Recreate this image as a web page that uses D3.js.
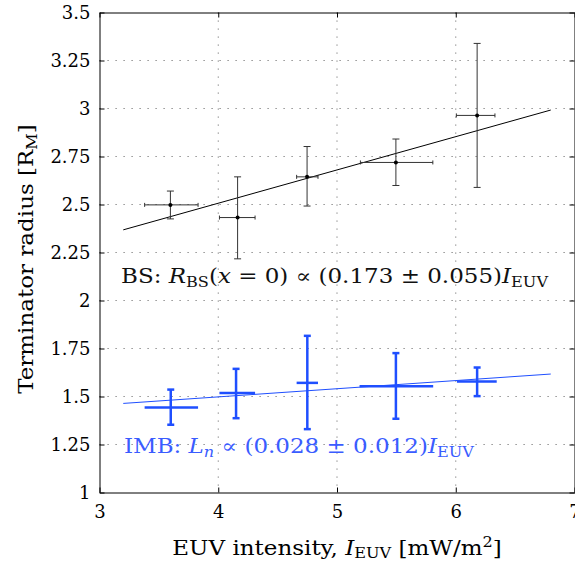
<!DOCTYPE html>
<html>
<head>
<meta charset="utf-8">
<script src="https://cdn.jsdelivr.net/npm/d3@7"></script>
<style>
  body { margin: 0; background: #fff; }
  svg text { font-family: "DejaVu Serif", serif; }
</style>
</head>
<body>
<div id="chart"></div>
<script>
// data
var xTicks = [3, 4, 5, 6, 7];
var yTicks = [1, 1.25, 1.5, 1.75, 2, 2.25, 2.5, 2.75, 3, 3.25, 3.5];

// bow shock (black)
var euvBS = [3.597, 4.163, 4.748, 5.496, 6.18];
var rBS = [2.498, 2.432, 2.644, 2.719, 2.964];
var xLoBS = [3.38, 4.01, 4.66, 5.197, 6.005];
var xHiBS = [3.83, 4.31, 4.84, 5.807, 6.33];
var yLoBS = [2.425, 2.217, 2.492, 2.599, 2.589];
var yHiBS = [2.57, 2.644, 2.802, 2.841, 3.339];

// induced magnetosphere boundary (blue)
var euvIMB = [3.6, 4.15, 4.75, 5.496, 6.18];
var lIMB = [1.443, 1.518, 1.571, 1.554, 1.578];
var xLoIMB = [3.38, 4.01, 4.66, 5.19, 6.01];
var xHiIMB = [3.83, 4.31, 4.84, 5.81, 6.345];
var yLoIMB = [1.353, 1.387, 1.330, 1.384, 1.502];
var yHiIMB = [1.536, 1.644, 1.816, 1.726, 1.651];

// linear fits
var fitX = [3.2, 6.8];
var fitBS = [2.368, 2.992];
var fitIMB = [1.464, 1.617];

var blue = "#1f4fff";
var serif = "'DejaVu Serif', serif";
var stretch = 1.15; // the original figure's text is a bit wider

// set the dimensions and margins of the graph
var margin = { top: 12.5, right: 0.5, bottom: 68.5, left: 99.5 },
    width = 575 - margin.left - margin.right,
    height = 561 - margin.top - margin.bottom;

var svg = d3.select("#chart")
    .append("svg")
    .attr("width", 575)
    .attr("height", 561)
    .append("g")
    .attr("transform", "translate(" + margin.left + "," + margin.top + ")");

var x = d3.scaleLinear().domain([3, 7]).range([0, width]);
var y = d3.scaleLinear().domain([1, 3.5]).range([height, 0]);

// dotted grid
svg.selectAll(".gx")
    .data(xTicks.slice(1, -1))
    .enter().append("line")
    .attr("x1", d => x(d)).attr("x2", d => x(d))
    .attr("y1", 0).attr("y2", height)
    .attr("stroke", "#777").attr("stroke-width", 1)
    .attr("stroke-dasharray", "1.2,6.8");

svg.selectAll(".gy")
    .data(yTicks.slice(1, -1))
    .enter().append("line")
    .attr("y1", d => y(d)).attr("y2", d => y(d))
    .attr("x1", 0).attr("x2", width)
    .attr("stroke", "#777").attr("stroke-width", 1)
    .attr("stroke-dasharray", "1.2,6.8");

// axes, ticks pointing inward
var fmt = d3.format("~g");
svg.append("g")
    .attr("transform", "translate(0," + height + ")")
    .call(d3.axisBottom(x).tickValues(xTicks).tickSizeInner(-5).tickSizeOuter(0).tickPadding(13).tickFormat(fmt));
svg.append("g")
    .call(d3.axisLeft(y).tickValues(yTicks).tickSizeInner(-5).tickSizeOuter(0).tickPadding(9).tickFormat(fmt));
svg.append("g")
    .call(d3.axisTop(x).tickValues(xTicks).tickSizeInner(-5).tickSizeOuter(0).tickFormat(""));
svg.append("g")
    .attr("transform", "translate(" + width + ",0)")
    .call(d3.axisRight(y).tickValues(yTicks).tickSizeInner(-5).tickSizeOuter(0).tickFormat(""));

svg.selectAll(".domain").attr("stroke", "#000");
svg.selectAll(".tick line").attr("stroke", "#000");
svg.selectAll(".tick text")
    .attr("font-family", serif)
    .style("font-family", serif)
    .style("font-size", "18px")
    .attr("fill", "#000");

// fit lines
var line = d3.line().x(d => x(d[0])).y(d => y(d[1]));
svg.append("path")
    .datum(fitX.map((v, i) => [v, fitBS[i]]))
    .attr("d", line).attr("fill", "none").attr("stroke", "#000").attr("stroke-width", 1);
svg.append("path")
    .datum(fitX.map((v, i) => [v, fitIMB[i]]))
    .attr("d", line).attr("fill", "none").attr("stroke", blue).attr("stroke-width", 1);

// error bars
function errorBars(cls, xs, ys, xlo, xhi, ylo, yhi, color, sw, capV, capH) {
    var data = xs.map((v, i) => ({ x: v, y: ys[i], xlo: xlo[i], xhi: xhi[i], ylo: ylo[i], yhi: yhi[i] }));
    var g = svg.append("g").attr("stroke", color).attr("stroke-width", sw).attr("fill", "none");
    var grp = g.selectAll("." + cls).data(data).enter().append("g");
    // vertical bar + caps
    grp.append("line")
        .attr("x1", d => x(d.x)).attr("x2", d => x(d.x))
        .attr("y1", d => y(d.ylo)).attr("y2", d => y(d.yhi));
    grp.append("line")
        .attr("x1", d => x(d.x) - capV).attr("x2", d => x(d.x) + capV)
        .attr("y1", d => y(d.yhi)).attr("y2", d => y(d.yhi));
    grp.append("line")
        .attr("x1", d => x(d.x) - capV).attr("x2", d => x(d.x) + capV)
        .attr("y1", d => y(d.ylo)).attr("y2", d => y(d.ylo));
    // horizontal bar + caps
    grp.append("line")
        .attr("x1", d => x(d.xlo)).attr("x2", d => x(d.xhi))
        .attr("y1", d => y(d.y)).attr("y2", d => y(d.y));
    if (capH > 0) {
        grp.append("line")
            .attr("x1", d => x(d.xlo)).attr("x2", d => x(d.xlo))
            .attr("y1", d => y(d.y) - capH).attr("y2", d => y(d.y) + capH);
        grp.append("line")
            .attr("x1", d => x(d.xhi)).attr("x2", d => x(d.xhi))
            .attr("y1", d => y(d.y) - capH).attr("y2", d => y(d.y) + capH);
    }
    return data;
}

var bsData = errorBars("bs", euvBS, rBS, xLoBS, xHiBS, yLoBS, yHiBS, "#333", 1, 3.5, 2);
errorBars("imb", euvIMB, lIMB, xLoIMB, xHiIMB, yLoIMB, yHiIMB, blue, 2.5, 3.5, 0);

svg.selectAll(".pt")
    .data(bsData)
    .enter().append("circle")
    .attr("cx", d => x(d.x)).attr("cy", d => y(d.y))
    .attr("r", 2).attr("fill", "#000");

// annotations
var bs = svg.append("text")
    .attr("transform", "translate(21.5,270.5) scale(" + stretch + ",1)")
    .style("font-size", "20px").attr("fill", "#111");
bs.append("tspan").text("BS: ");
bs.append("tspan").style("font-style", "italic").text("R");
bs.append("tspan").attr("dy", 4).style("font-size", "14px").text("BS");
bs.append("tspan").attr("dy", -4).text("(");
bs.append("tspan").style("font-style", "italic").text("x");
bs.append("tspan").text(" = 0) \u221D (0.173 \u00B1 0.055)");
bs.append("tspan").style("font-style", "italic").text("I");
bs.append("tspan").attr("dy", 4).style("font-size", "14px").text("EUV");

var imb = svg.append("text")
    .attr("transform", "translate(24.5,440.5) scale(" + stretch + ",1)")
    .style("font-size", "20px").attr("fill", "#3a5cff");
imb.append("tspan").text("IMB: ");
imb.append("tspan").style("font-style", "italic").text("L");
imb.append("tspan").attr("dy", 4).style("font-size", "14px").style("font-style", "italic").text("n");
imb.append("tspan").attr("dy", -4).text(" \u221D (0.028 \u00B1 0.012)");
imb.append("tspan").style("font-style", "italic").text("I");
imb.append("tspan").attr("dy", 4).style("font-size", "14px").text("EUV");

// axis labels
var xl = svg.append("text")
    .attr("transform", "translate(237.5," + (height + 62.5) + ") scale(" + stretch + ",1)")
    .style("text-anchor", "middle").style("font-size", "20px").attr("fill", "#000");
xl.append("tspan").text("EUV intensity, ");
xl.append("tspan").style("font-style", "italic").text("I");
xl.append("tspan").attr("dy", 3).style("font-size", "14px").text("EUV");
xl.append("tspan").attr("dy", -3).text(" [mW/m");
xl.append("tspan").attr("dy", -8).style("font-size", "14px").text("2");
xl.append("tspan").attr("dy", 8).text("]");

var yl = svg.append("text")
    .attr("transform", "translate(-66.5," + (height / 2 + 6.5) + ") rotate(-90) scale(" + stretch + ",1)")
    .style("text-anchor", "middle").style("font-size", "20px").attr("fill", "#000");
yl.append("tspan").text("Terminator radius [R");
yl.append("tspan").attr("dy", 4).style("font-size", "14px").text("M");
yl.append("tspan").attr("dy", -4).text("]");
</script>
</body>
</html>
